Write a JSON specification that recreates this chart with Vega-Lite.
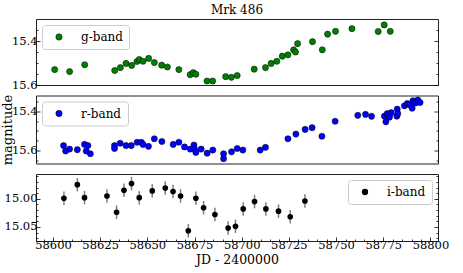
{
  "$schema": "https://vega.github.io/schema/vega-lite/v6.json",
  "padding": {"left": 0, "top": 3, "right": 16, "bottom": 2},
  "background": "white",
  "config": {
    "font": "DejaVu Serif",
    "view": {"stroke": "#222222", "strokeWidth": 1},
    "axis": {"labelFont": "DejaVu Serif", "titleFont": "DejaVu Serif", "labelColor": "black", "titleColor": "black", "titleFontWeight": "normal", "grid": false, "domain": false, "tickColor": "black", "tickWidth": 0.8, "labelFontSize": 11.5, "titleFontSize": 12.5, "labelOverlap": false, "labelFlush": false},
    "legend": {"labelFont": "DejaVu Serif", "labelFontSize": 12, "labelColor": "black"}
  },
  "datasets": {
    "g": [
      {"jd": 58600.9, "mag": 15.530, "band": "g-band"},
      {"jd": 58608.8, "mag": 15.539, "band": "g-band"},
      {"jd": 58616.8, "mag": 15.508, "band": "g-band"},
      {"jd": 58632.7, "mag": 15.534, "band": "g-band"},
      {"jd": 58635.7, "mag": 15.521, "band": "g-band"},
      {"jd": 58638.7, "mag": 15.502, "band": "g-band"},
      {"jd": 58641.7, "mag": 15.511, "band": "g-band"},
      {"jd": 58644.5, "mag": 15.493, "band": "g-band"},
      {"jd": 58645.7, "mag": 15.484, "band": "g-band"},
      {"jd": 58647.7, "mag": 15.492, "band": "g-band"},
      {"jd": 58650.7, "mag": 15.479, "band": "g-band"},
      {"jd": 58653.7, "mag": 15.498, "band": "g-band"},
      {"jd": 58657.6, "mag": 15.510, "band": "g-band"},
      {"jd": 58660.6, "mag": 15.518, "band": "g-band"},
      {"jd": 58666.7, "mag": 15.530, "band": "g-band"},
      {"jd": 58672.7, "mag": 15.553, "band": "g-band"},
      {"jd": 58674.3, "mag": 15.544, "band": "g-band"},
      {"jd": 58675.7, "mag": 15.551, "band": "g-band"},
      {"jd": 58681.6, "mag": 15.582, "band": "g-band"},
      {"jd": 58684.6, "mag": 15.582, "band": "g-band"},
      {"jd": 58691.5, "mag": 15.562, "band": "g-band"},
      {"jd": 58694.5, "mag": 15.565, "band": "g-band"},
      {"jd": 58697.6, "mag": 15.557, "band": "g-band"},
      {"jd": 58706.6, "mag": 15.528, "band": "g-band"},
      {"jd": 58712.6, "mag": 15.521, "band": "g-band"},
      {"jd": 58715.6, "mag": 15.502, "band": "g-band"},
      {"jd": 58718.6, "mag": 15.492, "band": "g-band"},
      {"jd": 58721.5, "mag": 15.469, "band": "g-band"},
      {"jd": 58724.5, "mag": 15.463, "band": "g-band"},
      {"jd": 58727.5, "mag": 15.440, "band": "g-band"},
      {"jd": 58728.5, "mag": 15.450, "band": "g-band"},
      {"jd": 58729.6, "mag": 15.412, "band": "g-band"},
      {"jd": 58737.5, "mag": 15.403, "band": "g-band"},
      {"jd": 58742.7, "mag": 15.440, "band": "g-band"},
      {"jd": 58745.5, "mag": 15.369, "band": "g-band"},
      {"jd": 58749.7, "mag": 15.356, "band": "g-band"},
      {"jd": 58758.4, "mag": 15.344, "band": "g-band"},
      {"jd": 58772.3, "mag": 15.357, "band": "g-band"},
      {"jd": 58775.5, "mag": 15.327, "band": "g-band"},
      {"jd": 58778.7, "mag": 15.356, "band": "g-band"}
    ],
    "r": [
      {"jd": 58605.6, "mag": 15.575, "band": "r-band"},
      {"jd": 58606.7, "mag": 15.603, "band": "r-band"},
      {"jd": 58608.8, "mag": 15.593, "band": "r-band"},
      {"jd": 58612.9, "mag": 15.596, "band": "r-band"},
      {"jd": 58616.7, "mag": 15.569, "band": "r-band"},
      {"jd": 58618.5, "mag": 15.575, "band": "r-band"},
      {"jd": 58617.6, "mag": 15.603, "band": "r-band"},
      {"jd": 58619.8, "mag": 15.617, "band": "r-band"},
      {"jd": 58632.6, "mag": 15.575, "band": "r-band"},
      {"jd": 58632.6, "mag": 15.590, "band": "r-band"},
      {"jd": 58635.6, "mag": 15.563, "band": "r-band"},
      {"jd": 58638.7, "mag": 15.575, "band": "r-band"},
      {"jd": 58641.5, "mag": 15.575, "band": "r-band"},
      {"jd": 58644.6, "mag": 15.558, "band": "r-band"},
      {"jd": 58646.8, "mag": 15.558, "band": "r-band"},
      {"jd": 58647.7, "mag": 15.569, "band": "r-band"},
      {"jd": 58650.6, "mag": 15.579, "band": "r-band"},
      {"jd": 58653.7, "mag": 15.540, "band": "r-band"},
      {"jd": 58657.7, "mag": 15.554, "band": "r-band"},
      {"jd": 58663.7, "mag": 15.569, "band": "r-band"},
      {"jd": 58666.7, "mag": 15.558, "band": "r-band"},
      {"jd": 58669.7, "mag": 15.582, "band": "r-band"},
      {"jd": 58672.7, "mag": 15.593, "band": "r-band"},
      {"jd": 58674.7, "mag": 15.572, "band": "r-band"},
      {"jd": 58675.0, "mag": 15.593, "band": "r-band"},
      {"jd": 58675.7, "mag": 15.610, "band": "r-band"},
      {"jd": 58678.5, "mag": 15.593, "band": "r-band"},
      {"jd": 58681.7, "mag": 15.614, "band": "r-band"},
      {"jd": 58684.7, "mag": 15.598, "band": "r-band"},
      {"jd": 58690.4, "mag": 15.617, "band": "r-band"},
      {"jd": 58690.4, "mag": 15.642, "band": "r-band"},
      {"jd": 58694.6, "mag": 15.607, "band": "r-band"},
      {"jd": 58697.6, "mag": 15.590, "band": "r-band"},
      {"jd": 58700.6, "mag": 15.598, "band": "r-band"},
      {"jd": 58709.8, "mag": 15.598, "band": "r-band"},
      {"jd": 58712.6, "mag": 15.584, "band": "r-band"},
      {"jd": 58724.5, "mag": 15.540, "band": "r-band"},
      {"jd": 58728.7, "mag": 15.516, "band": "r-band"},
      {"jd": 58733.6, "mag": 15.492, "band": "r-band"},
      {"jd": 58737.3, "mag": 15.483, "band": "r-band"},
      {"jd": 58742.5, "mag": 15.527, "band": "r-band"},
      {"jd": 58749.5, "mag": 15.450, "band": "r-band"},
      {"jd": 58761.5, "mag": 15.420, "band": "r-band"},
      {"jd": 58765.6, "mag": 15.415, "band": "r-band"},
      {"jd": 58768.8, "mag": 15.425, "band": "r-band"},
      {"jd": 58775.6, "mag": 15.424, "band": "r-band"},
      {"jd": 58776.4, "mag": 15.453, "band": "r-band"},
      {"jd": 58777.1, "mag": 15.411, "band": "r-band"},
      {"jd": 58778.3, "mag": 15.429, "band": "r-band"},
      {"jd": 58779.2, "mag": 15.406, "band": "r-band"},
      {"jd": 58782.2, "mag": 15.424, "band": "r-band"},
      {"jd": 58782.4, "mag": 15.388, "band": "r-band"},
      {"jd": 58782.7, "mag": 15.411, "band": "r-band"},
      {"jd": 58786.2, "mag": 15.371, "band": "r-band"},
      {"jd": 58787.7, "mag": 15.359, "band": "r-band"},
      {"jd": 58788.9, "mag": 15.366, "band": "r-band"},
      {"jd": 58790.3, "mag": 15.383, "band": "r-band"},
      {"jd": 58790.7, "mag": 15.345, "band": "r-band"},
      {"jd": 58792.1, "mag": 15.356, "band": "r-band"},
      {"jd": 58793.3, "mag": 15.341, "band": "r-band"},
      {"jd": 58794.5, "mag": 15.354, "band": "r-band"}
    ],
    "i": [
      {"jd": 58605.8, "mag": 14.999, "err": 0.012, "band": "i-band"},
      {"jd": 58612.9, "mag": 14.975, "err": 0.012, "band": "i-band"},
      {"jd": 58616.7, "mag": 14.998, "err": 0.012, "band": "i-band"},
      {"jd": 58628.6, "mag": 14.995, "err": 0.012, "band": "i-band"},
      {"jd": 58633.7, "mag": 15.024, "err": 0.012, "band": "i-band"},
      {"jd": 58637.6, "mag": 14.985, "err": 0.012, "band": "i-band"},
      {"jd": 58641.6, "mag": 14.973, "err": 0.012, "band": "i-band"},
      {"jd": 58645.7, "mag": 14.998, "err": 0.012, "band": "i-band"},
      {"jd": 58652.6, "mag": 14.986, "err": 0.012, "band": "i-band"},
      {"jd": 58659.5, "mag": 14.981, "err": 0.012, "band": "i-band"},
      {"jd": 58663.6, "mag": 14.987, "err": 0.012, "band": "i-band"},
      {"jd": 58667.6, "mag": 14.995, "err": 0.012, "band": "i-band"},
      {"jd": 58671.7, "mag": 15.057, "err": 0.012, "band": "i-band"},
      {"jd": 58675.7, "mag": 14.999, "err": 0.012, "band": "i-band"},
      {"jd": 58679.8, "mag": 15.016, "err": 0.012, "band": "i-band"},
      {"jd": 58685.8, "mag": 15.028, "err": 0.012, "band": "i-band"},
      {"jd": 58692.8, "mag": 15.052, "err": 0.012, "band": "i-band"},
      {"jd": 58696.7, "mag": 15.049, "err": 0.012, "band": "i-band"},
      {"jd": 58700.8, "mag": 15.018, "err": 0.012, "band": "i-band"},
      {"jd": 58706.8, "mag": 15.005, "err": 0.012, "band": "i-band"},
      {"jd": 58712.8, "mag": 15.018, "err": 0.012, "band": "i-band"},
      {"jd": 58719.5, "mag": 15.022, "err": 0.012, "band": "i-band"},
      {"jd": 58725.7, "mag": 15.032, "err": 0.012, "band": "i-band"},
      {"jd": 58733.5, "mag": 15.004, "err": 0.012, "band": "i-band"}
    ]
  },
  "spacing": 10.5,
  "bounds": "flush",
  "resolve": {"scale": {"x": "independent", "y": "independent", "color": "independent"}},
  "vconcat": [
    {
      "width": 402,
      "height": 66,
      "title": {"text": "Mrk 486", "font": "DejaVu Serif", "fontSize": 12, "fontWeight": "normal", "color": "black", "offset": 2, "anchor": "middle"},
      "data": {"name": "g"},
      "encoding": {
        "x": {"field": "jd", "type": "quantitative", "scale": {"domain": [58591, 58804], "nice": false, "zero": false}, "axis": null}
      },
      "layer": [
        {
          "mark": {"type": "point", "filled": true, "size": 38, "stroke": "black", "strokeWidth": 0.5, "opacity": 1},
          "encoding": {
            "y": {"field": "mag", "type": "quantitative", "scale": {"domain": [15.3, 15.6], "reverse": true, "nice": false, "zero": false},
              "axis": {"orient": "left", "title": null, "values": [15.35, 15.4, 15.45, 15.5, 15.55, 15.6],
                "tickSize": {"condition": {"test": "abs(datum.value*5-round(datum.value*5))<0.001", "value": -4}, "value": -2},
                "labelExpr": "abs(datum.value*5-round(datum.value*5))<0.001 ? format(datum.value,'.1f') : ''", "labelPadding": 3}},
            "color": {"field": "band", "type": "nominal", "scale": {"domain": ["g-band"], "range": ["#008000"]},
              "legend": {"title": null, "orient": "top-left", "offset": 6, "padding": 6, "fillColor": "white", "strokeColor": "#cccccc", "cornerRadius": 3, "symbolType": "circle", "symbolSize": 40, "symbolStrokeColor": "black", "symbolStrokeWidth": 0.5, "symbolOffset": 5, "labelOffset": 16}}
          }
        },
        {
          "mark": {"type": "point", "opacity": 0},
          "encoding": {
            "y": {"field": "mag", "type": "quantitative",
              "axis": {"orient": "right", "title": null, "labels": false, "values": [15.35, 15.4, 15.45, 15.5, 15.55, 15.6],
                "tickSize": {"condition": {"test": "abs(datum.value*5-round(datum.value*5))<0.001", "value": -4}, "value": -2}}}
          }
        }
      ],
      "resolve": {"axis": {"y": "independent"}}
    },
    {
      "width": 402,
      "height": 68,
      "data": {"name": "r"},
      "encoding": {
        "x": {"field": "jd", "type": "quantitative", "scale": {"domain": [58591, 58804], "nice": false, "zero": false}, "axis": null}
      },
      "layer": [
        {
          "mark": {"type": "point", "filled": true, "size": 38, "stroke": "black", "strokeWidth": 0.5, "opacity": 1},
          "encoding": {
            "y": {"field": "mag", "type": "quantitative", "scale": {"domain": [15.318, 15.667], "reverse": true, "nice": false, "zero": false},
              "axis": {"orient": "left", "title": "magnitude", "titleFontSize": 13, "titlePadding": -3, "values": [15.35, 15.4, 15.45, 15.5, 15.55, 15.6, 15.65],
                "tickSize": {"condition": {"test": "abs(datum.value*5-round(datum.value*5))<0.001", "value": -4}, "value": -2},
                "labelExpr": "abs(datum.value*5-round(datum.value*5))<0.001 ? format(datum.value,'.1f') : ''", "labelPadding": 3}},
            "color": {"field": "band", "type": "nominal", "scale": {"domain": ["r-band"], "range": ["#0000ff"]},
              "legend": {"title": null, "orient": "top-left", "offset": 6, "padding": 6, "fillColor": "white", "strokeColor": "#cccccc", "cornerRadius": 3, "symbolType": "circle", "symbolSize": 40, "symbolStrokeColor": "black", "symbolStrokeWidth": 0.5, "symbolOffset": 5, "labelOffset": 16}}
          }
        },
        {
          "mark": {"type": "point", "opacity": 0},
          "encoding": {
            "y": {"field": "mag", "type": "quantitative",
              "axis": {"orient": "right", "title": null, "labels": false, "values": [15.35, 15.4, 15.45, 15.5, 15.55, 15.6, 15.65],
                "tickSize": {"condition": {"test": "abs(datum.value*5-round(datum.value*5))<0.001", "value": -4}, "value": -2}}}
          }
        }
      ],
      "resolve": {"axis": {"y": "independent"}}
    },
    {
      "width": 402,
      "height": 67,
      "data": {"name": "i"},
      "encoding": {
        "x": {"field": "jd", "type": "quantitative", "scale": {"domain": [58591, 58804], "nice": false, "zero": false},
          "axis": {"orient": "bottom", "title": "JD - 2400000", "titlePadding": 1,
            "values": [58595, 58600, 58605, 58610, 58615, 58620, 58625, 58630, 58635, 58640, 58645, 58650, 58655, 58660, 58665, 58670, 58675, 58680, 58685, 58690, 58695, 58700, 58705, 58710, 58715, 58720, 58725, 58730, 58735, 58740, 58745, 58750, 58755, 58760, 58765, 58770, 58775, 58780, 58785, 58790, 58795, 58800],
            "tickSize": {"condition": {"test": "datum.value % 25 === 0", "value": -4}, "value": -2},
            "labelExpr": "datum.value % 25 === 0 ? format(datum.value,'d') : ''", "labelPadding": 2}}
      },
      "layer": [
        {
          "mark": {"type": "errorbar", "color": "#808080", "thickness": 1.5},
          "encoding": {
            "y": {"field": "mag", "type": "quantitative", "scale": {"domain": [14.956, 15.075], "reverse": true, "nice": false, "zero": false},
              "axis": {"orient": "right", "title": null, "labels": false, "values": [14.96, 14.97, 14.98, 14.99, 15.0, 15.01, 15.02, 15.03, 15.04, 15.05, 15.06, 15.07],
                "tickSize": {"condition": {"test": "abs(datum.value*20-round(datum.value*20))<0.001", "value": -4}, "value": -2}}},
            "yError": {"field": "err"}
          }
        },
        {
          "mark": {"type": "point", "filled": true, "size": 32, "opacity": 1},
          "encoding": {
            "y": {"field": "mag", "type": "quantitative",
              "axis": {"orient": "left", "title": null, "values": [14.96, 14.97, 14.98, 14.99, 15.0, 15.01, 15.02, 15.03, 15.04, 15.05, 15.06, 15.07],
                "tickSize": {"condition": {"test": "abs(datum.value*20-round(datum.value*20))<0.001", "value": -4}, "value": -2},
                "labelExpr": "abs(datum.value*20-round(datum.value*20))<0.001 ? format(datum.value,'.2f') : ''", "labelPadding": 3}},
            "color": {"field": "band", "type": "nominal", "scale": {"domain": ["i-band"], "range": ["#000000"]},
              "legend": {"title": null, "orient": "top-right", "offset": 6, "padding": 6, "fillColor": "white", "strokeColor": "#cccccc", "cornerRadius": 3, "symbolType": "circle", "symbolSize": 40, "symbolOffset": 5, "labelOffset": 16}}
          }
        }
      ],
      "resolve": {"axis": {"y": "independent"}}
    }
  ]
}
